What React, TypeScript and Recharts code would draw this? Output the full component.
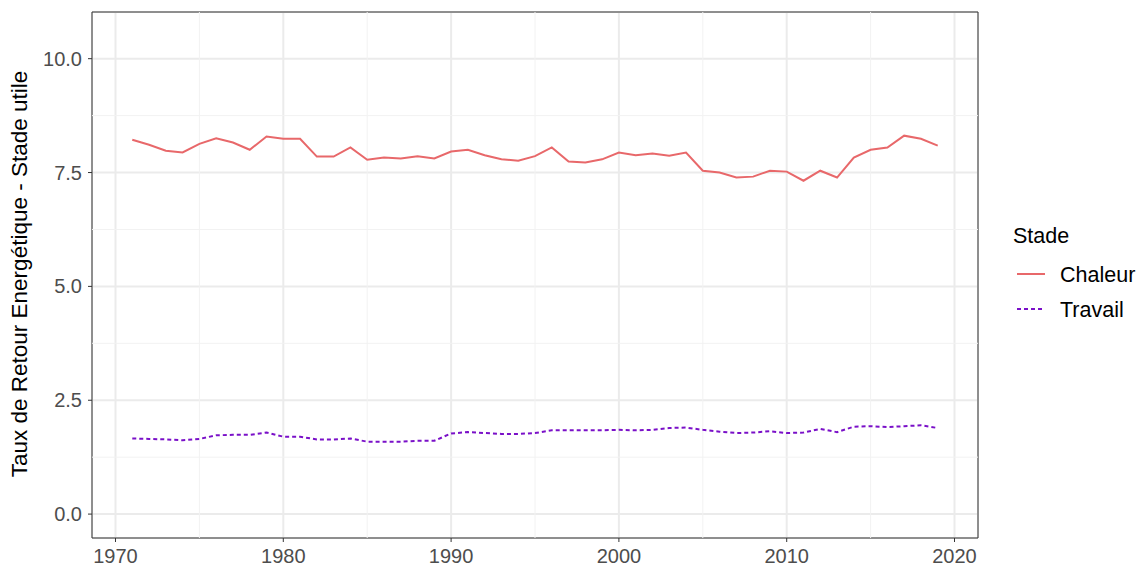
import React from 'react';
import { LineChart, Line, XAxis, YAxis, CartesianGrid, ReferenceLine, ReferenceArea } from 'recharts';

const years = [1971,1972,1973,1974,1975,1976,1977,1978,1979,1980,1981,1982,1983,1984,1985,1986,1987,1988,1989,1990,1991,1992,1993,1994,1995,1996,1997,1998,1999,2000,2001,2002,2003,2004,2005,2006,2007,2008,2009,2010,2011,2012,2013,2014,2015,2016,2017,2018,2019];
const chaleur = [8.22,8.11,7.98,7.94,8.13,8.25,8.16,8.0,8.29,8.24,8.24,7.85,7.85,8.05,7.78,7.83,7.81,7.86,7.81,7.96,8.0,7.88,7.79,7.76,7.86,8.05,7.74,7.72,7.79,7.94,7.88,7.92,7.87,7.94,7.54,7.5,7.39,7.41,7.54,7.52,7.32,7.54,7.39,7.83,8.0,8.05,8.31,8.24,8.09];
const travail = [1.66,1.65,1.64,1.62,1.65,1.73,1.74,1.74,1.79,1.70,1.70,1.64,1.64,1.66,1.59,1.59,1.59,1.61,1.61,1.77,1.80,1.78,1.76,1.76,1.78,1.84,1.84,1.84,1.84,1.85,1.84,1.85,1.89,1.90,1.85,1.81,1.78,1.79,1.82,1.78,1.79,1.87,1.80,1.92,1.93,1.91,1.93,1.95,1.89];
const xTicks = [1970,1980,1990,2000,2010,2020];
const yTicks = [0,2.5,5,7.5,10];
const xMinor = [1975,1985,1995,2005,2015];
const yMinor = [1.25,3.75,6.25,8.75];
const seriesNames = ['Chaleur', 'Travail'];

const data = years.map((y, i) => ({ year: y, Chaleur: chaleur[i], Travail: travail[i] }));

const X_DOMAIN: [number, number] = [1968.6, 2021.4];
const Y_DOMAIN: [number, number] = [-0.525, 11.025];
const FONT = '"Liberation Sans", Arial, sans-serif';
const C_COLOR = '#E8686A';
const T_COLOR = '#7A10C8';
const colors = [C_COLOR, T_COLOR];
const dashes = [undefined, '4 3'];

export default function App() {
  return (
    <div style={{ position: 'fixed', left: 0, top: 0, width: 1142, height: 568, background: '#fff' }}>
      <LineChart width={1142} height={568} data={data} margin={{ top: 12, right: 164, bottom: 0, left: 0 }}>
        {xMinor.map((v) => (
          <ReferenceLine key={'xm' + v} x={v} stroke="#f2f2f2" strokeWidth={1} />
        ))}
        {yMinor.map((v) => (
          <ReferenceLine key={'ym' + v} y={v} stroke="#f2f2f2" strokeWidth={1} />
        ))}
        <CartesianGrid stroke="#ebebeb" strokeWidth={2} />
        <XAxis
          dataKey="year"
          type="number"
          domain={X_DOMAIN}
          ticks={xTicks}
          allowDataOverflow
          height={30}
          tickSize={4}
          tickMargin={7}
          tickLine={{ stroke: '#333333' }}
          axisLine={false}
          tick={{ fill: '#4d4d4d', fontSize: 20, fontFamily: FONT }}
        />
        <YAxis
          type="number"
          domain={Y_DOMAIN}
          ticks={yTicks}
          allowDataOverflow
          width={92}
          tickSize={4}
          tickMargin={6}
          tickLine={{ stroke: '#333333' }}
          axisLine={false}
          tickFormatter={(v: number) => v.toFixed(1)}
          tick={{ fill: '#4d4d4d', fontSize: 20, fontFamily: FONT }}
          label={{
            content: () => (
              <text
                x={0}
                y={0}
                transform="translate(27,274) rotate(-90)"
                textAnchor="middle"
                style={{ fontFamily: FONT, fontSize: 22.5, fill: '#000' }}
              >
                Taux de Retour Energétique - Stade utile
              </text>
            ),
          }}
        />
        <Line dataKey="Chaleur" stroke={C_COLOR} strokeWidth={2} dot={false} isAnimationActive={false} />
        <Line dataKey="Travail" stroke={T_COLOR} strokeWidth={2} strokeDasharray="4 3" dot={false} isAnimationActive={false} />
        <ReferenceArea x1={X_DOMAIN[0]} x2={X_DOMAIN[1]} y1={Y_DOMAIN[0]} y2={Y_DOMAIN[1]} fill="none" stroke="#333333" strokeWidth={1} />
      </LineChart>
      <svg width={142} height={140} style={{ position: 'absolute', left: 1000, top: 215 }}>
        <text x={13} y={28} style={{ fontFamily: FONT, fontSize: 21.5, fill: '#000' }}>Stade</text>
        {seriesNames.map((n, i) => (
          <g key={n}>
            <line x1={17} x2={45} y1={59 + i * 35} y2={59 + i * 35} stroke={colors[i]} strokeWidth={2} strokeDasharray={dashes[i]} />
            <text x={60} y={59 + i * 35} dy="0.36em" style={{ fontFamily: FONT, fontSize: 21.5, fill: '#000' }}>{n}</text>
          </g>
        ))}
      </svg>
    </div>
  );
}
